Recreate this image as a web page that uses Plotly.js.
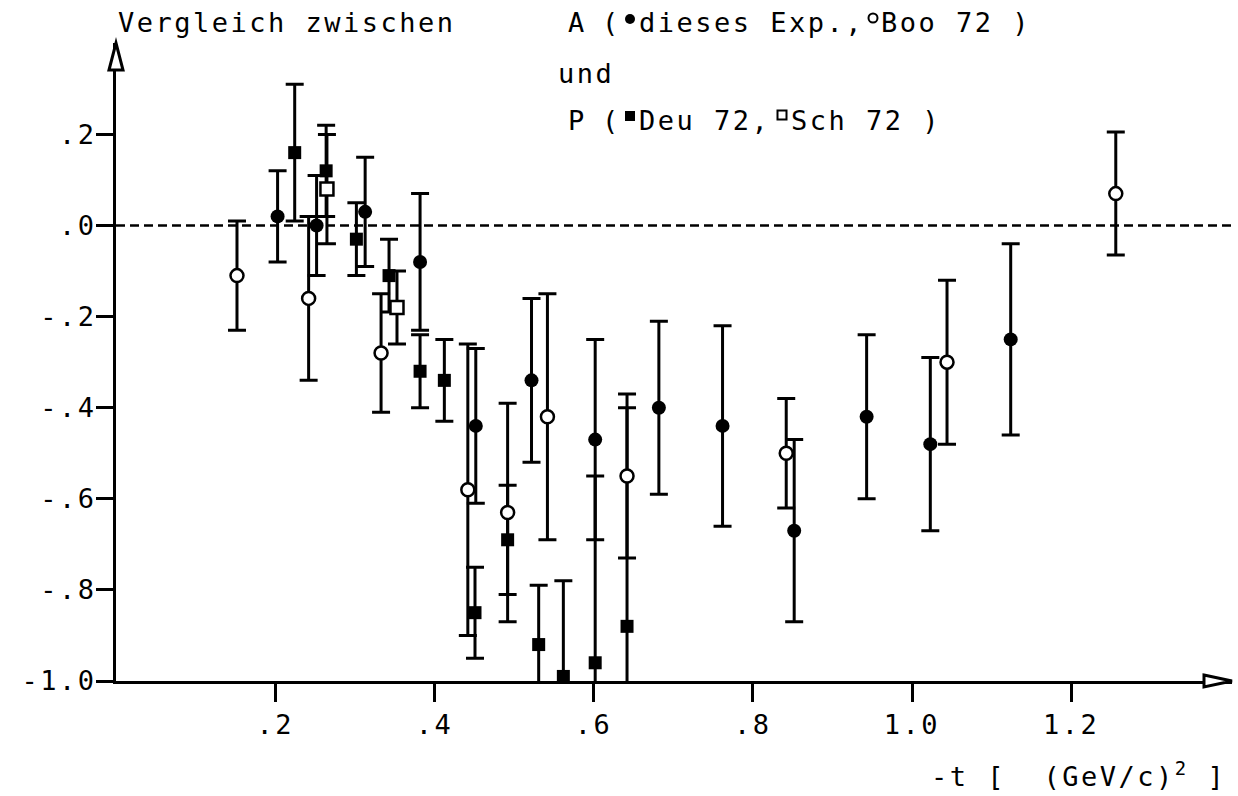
<!DOCTYPE html>
<html>
<head>
<meta charset="utf-8">
<script src="https://cdn.plot.ly/plotly-3.0.1.min.js"></script>
<style>
  html, body { margin: 0; padding: 0; background: #fff; }
  svg text { letter-spacing: 2.5px; }
</style>
</head>
<body>
<div id="chart" style="width:1238px;height:796px;"></div>
<script>
// ---- data ----
// A, dieses Exp. (filled circles)
const aOwnX   = [0.203, 0.252, 0.313, 0.382, 0.452, 0.522, 0.602, 0.682, 0.762, 0.852, 0.943, 1.023, 1.124];
const aOwnY   = [0.02, 0.00, 0.03, -0.08, -0.44, -0.34, -0.47, -0.40, -0.44, -0.67, -0.42, -0.48, -0.25];
const aOwnErr = [0.10, 0.11, 0.12, 0.15, 0.17, 0.18, 0.22, 0.19, 0.22, 0.20, 0.18, 0.19, 0.21];
// A, Boo 72 (open circles)
const aBooX   = [0.152, 0.242, 0.333, 0.442, 0.492, 0.542, 0.642, 0.842, 1.044, 1.256];
const aBooY   = [-0.11, -0.16, -0.28, -0.58, -0.63, -0.42, -0.55, -0.50, -0.30, 0.07];
const aBooErr = [0.12, 0.18, 0.13, 0.32, 0.24, 0.27, 0.18, 0.12, 0.18, 0.135];
// P, Deu 72 (filled squares)
const pDeuX   = [0.2245, 0.264, 0.302, 0.343, 0.382, 0.4125, 0.451, 0.492, 0.531, 0.562, 0.602, 0.642];
const pDeuY   = [0.16, 0.12, -0.03, -0.11, -0.32, -0.34, -0.85, -0.69, -0.92, -0.99, -0.96, -0.88];
const pDeuErr = [0.15, 0.10, 0.08, 0.08, 0.08, 0.09, 0.10, 0.12, 0.13, 0.21, 0.41, 0.48];
// P, Sch 72 (open squares)
const pSchX   = [0.265, 0.353];
const pSchY   = [0.08, -0.18];
const pSchErr = [0.12, 0.08];

const xTickVals = [0.2, 0.4, 0.6, 0.8, 1.0, 1.2];
const xTickText = ['.2', '.4', '.6', '.8', '1.0', '1.2'];
const yTickVals = [0.2, 0.0, -0.2, -0.4, -0.6, -0.8, -1.0];
const yTickText = ['.2', '.0', '-.2', '-.4', '-.6', '-.8', '-1.0'];

// ---- layout geometry ----
const W = 1238, H = 796;
const L = 116, R = 6, T = 43, B = 115;
const plotW = W - L - R, plotH = H - T - B;
const pxPerX = 796, pxPerY = 455.5;
const xMax = plotW / pxPerX;
const yMin = -1.0, yMax = yMin + plotH / pxPerY;

const px = v => (v - L) / plotW;          // page pixel -> paper x
const py = v => (H - B - v) / plotH;      // page pixel -> paper y

const FONT = 'DejaVu Sans Mono, monospace';
const FS = 27;
const LW = 3;

function errSpec(arr) {
  return { type: 'data', array: arr, symmetric: true, visible: true,
           color: '#000', thickness: LW, width: 9 };
}

const traces = [
  { type: 'scatter', mode: 'markers', x: pDeuX, y: pDeuY, error_y: errSpec(pDeuErr),
    marker: { symbol: 'square', size: 13, color: '#000', line: { width: 0 } } },
  { type: 'scatter', mode: 'markers', x: pSchX, y: pSchY, error_y: errSpec(pSchErr),
    marker: { symbol: 'square', size: 13, color: '#fff', line: { color: '#000', width: 2.5 } } },
  { type: 'scatter', mode: 'markers', x: aOwnX, y: aOwnY, error_y: errSpec(aOwnErr),
    marker: { symbol: 'circle', size: 14, color: '#000', line: { width: 0 } } },
  { type: 'scatter', mode: 'markers', x: aBooX, y: aBooY, error_y: errSpec(aBooErr),
    marker: { symbol: 'circle', size: 13, color: '#fff', line: { color: '#000', width: 2.5 } } }
];

function txt(text, xPos, yCenter, size, anchor) {
  return { text: text, xref: 'paper', yref: 'paper', x: px(xPos), y: py(yCenter),
           xanchor: anchor || 'left', yanchor: 'middle', showarrow: false,
           font: { family: FONT, size: size || FS, color: '#000' } };
}

const annotations = [
  txt('Vergleich zwischen', 116, 22),
  txt('A', 566, 22),
  txt('(', 600, 22),
  txt('dieses Exp.,', 637, 22),
  txt('Boo 72 )', 879, 22),
  txt('und', 556, 73),
  txt('P', 566, 120),
  txt('(', 600, 120),
  txt('Deu 72,', 637, 120),
  txt('Sch 72 )', 789, 120),
  txt('-t [  (GeV/c)<sup>2</sup> ]', 1228, 774, FS, 'right')
];

function circ(cx, cy, r, filled) {
  return { type: 'circle', xref: 'paper', yref: 'paper',
           x0: px(cx - r), x1: px(cx + r), y0: py(cy + r), y1: py(cy - r),
           fillcolor: filled ? '#000' : '#fff', line: { color: '#000', width: filled ? 0 : 2 }, layer: 'above' };
}
function sq(cx, cy, r, filled) {
  return { type: 'rect', xref: 'paper', yref: 'paper',
           x0: px(cx - r), x1: px(cx + r), y0: py(cy + r), y1: py(cy - r),
           fillcolor: filled ? '#000' : '#fff', line: { color: '#000', width: filled ? 0 : 2 }, layer: 'above' };
}

const shapes = [
  // dashed zero line
  { type: 'line', xref: 'x', yref: 'y', x0: 0, x1: xMax, y0: 0, y1: 0,
    line: { color: '#000', width: 2.5, dash: '9px,5px' }, layer: 'below' },
  // y axis arrow head (open)
  { type: 'path', xref: 'paper', yref: 'paper',
    path: `M ${px(L - 7)} ${py(T + 27)} L ${px(L)} ${py(T)} L ${px(L + 7)} ${py(T + 27)} Z`,
    fillcolor: '#fff', line: { color: '#000', width: LW }, layer: 'above' },
  // x axis arrow head (open)
  { type: 'path', xref: 'paper', yref: 'paper',
    path: `M ${px(W - R - 28)} ${py(H - B - 6)} L ${px(W - R)} ${py(H - B)} L ${px(W - R - 28)} ${py(H - B + 6)} Z`,
    fillcolor: '#fff', line: { color: '#000', width: LW }, layer: 'above' },
  // legend symbols in the header text
  circ(630, 19, 5, true),
  circ(873, 18, 4.5, false),
  sq(630, 116, 5, true),
  sq(782, 115, 4.5, false)
];

const layout = {
  width: W, height: H,
  margin: { l: L, r: R, t: T, b: B, pad: 0 },
  paper_bgcolor: '#fff', plot_bgcolor: '#fff',
  showlegend: false,
  font: { family: FONT, size: FS, color: '#000' },
  xaxis: {
    range: [0, xMax], showgrid: false, zeroline: false,
    showline: true, linecolor: '#000', linewidth: LW,
    ticks: 'outside', ticklen: 18, tickwidth: LW, tickcolor: '#000',
    tickvals: xTickVals, ticktext: xTickText,
    tickfont: { family: FONT, size: FS, color: '#000' }
  },
  yaxis: {
    range: [yMin, yMax], showgrid: false, zeroline: false,
    showline: true, linecolor: '#000', linewidth: LW,
    ticks: 'outside', ticklen: 17, tickwidth: LW, tickcolor: '#000',
    ticklabelstandoff: -6,
    tickvals: yTickVals, ticktext: yTickText,
    tickfont: { family: FONT, size: FS, color: '#000' }
  },
  annotations: annotations,
  shapes: shapes
};

Plotly.newPlot('chart', traces, layout, { displayModeBar: false, staticPlot: true });
</script>
</body>
</html>
